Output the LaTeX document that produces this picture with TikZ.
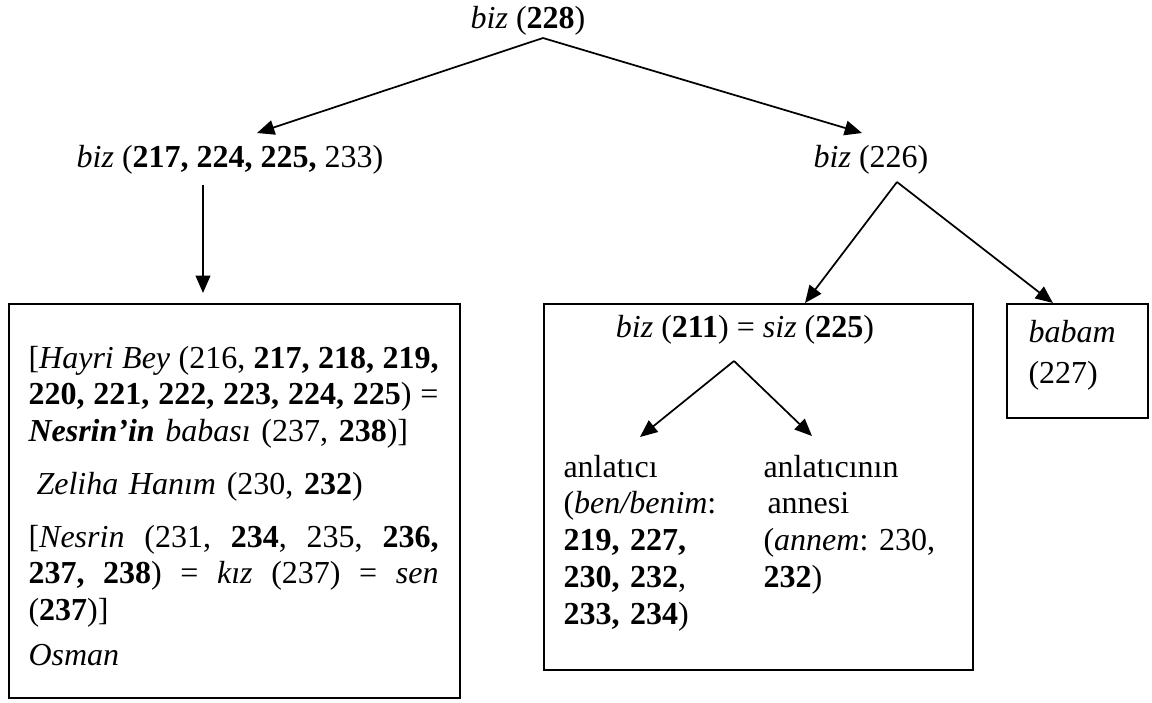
\documentclass[tikz,border=0pt]{standalone}
\usepackage{fontspec}
\setmainfont{Liberation Serif}
\usetikzlibrary{arrows.meta, positioning}

% one justified line of a paragraph
\newlength{\parw}
\setlength{\parw}{153.75pt}
\newcommand{\jline}[1]{\leavevmode\hbox to\parw{\spaceskip=2pt plus 1fil\relax #1}}

\begin{document}
\begin{tikzpicture}[
  x=0.375pt, y=-0.375pt,
  font=\fontsize{12pt}{13.8pt}\selectfont\frenchspacing,
  lbl/.style={inner sep=0pt, anchor=base},
  para/.style={inner sep=0pt, anchor=base west, align=left, text width=#1},
  para/.default=\parw,
  frame/.style={draw, line width=0.75pt, inner sep=0pt, anchor=north west},
  ar/.style={-{Triangle[length=6.5pt, width=5.5pt]}, line width=0.65pt},
]
\useasboundingbox (0,0) rectangle (1152,702);

%% upper levels
\node[lbl] (top)  at (528,28)  {\textit{biz} (\textbf{228})};
\node[lbl] (bizl) at (230,167) {\textit{biz} (\textbf{217, 224, 225,} 233)};
\node[lbl] (bizr) at (871,167) {\textit{biz} (226)};

%% frames
\node[frame, minimum width=169.1pt, minimum height=147.75pt] (lbox) at (8,303) {};
\node[frame, minimum width=160.9pt, minimum height=137.25pt] (rbox) at (543,303) {};
\node[frame, minimum width=52.9pt, minimum height=42.75pt] (bbox) at (1006,303) {};

%% left frame
\node[para] (hayri) at (28,368)
  {\jline{[\textit{Hayri Bey} (216, \textbf{217, 218, 219,}}\\
   \jline{\textbf{220, 221, 222, 223, 224, 225}) =}\\
   \textbf{\textit{Nesrin’in}} \textit{babası} (237, \textbf{238})]};
\node[para] (zeliha) at (28,494) {\hspace*{.25em}\textit{Zeliha Hanım} (230, \textbf{232})};
\node[para] (nesrin) at (28,547)
  {\jline{[\textit{Nesrin} (231, \textbf{234}, 235, \textbf{236,}}\\
   \jline{\textbf{237, 238}) = \textit{kız} (237) = \textit{sen}}\\
   (\textbf{237})]};
\node[para] (osman) at (28,665) {\textit{Osman}};

%% right frame
\node[lbl] (bizsiz) at (745,337) {\textit{biz} (\textbf{211}) = \textit{siz} (\textbf{225})};
\node[para=60pt] (anlatici) at (563,477)
  {anlatıcı\\(\textit{ben/benim}:\\\textbf{219, 227,}\\\textbf{230, 232},\\\textbf{233, 234})};
\node[para=72pt] (annesi) at (763,477)
  {anlatıcının\\\hspace*{1.5pt}annesi\\(\textit{annem}: 230,\\\textbf{232})};

%% small frame
\node[para=45pt] (babam) at (1028,342) {\textit{babam}\\[1.9pt](227)};

%% forks
\coordinate (topfork) at (543,38);
\coordinate (lstem)   at (203,185);
\coordinate (rfork)   at (897,182);
\coordinate (ifork)   at (734,361);
\coordinate (bizlin)  at (257,133);
\coordinate (bizrin)  at (862,133);
\coordinate (anlin)   at (640,437);
\coordinate (annin)   at (812,436);

\draw[ar] (topfork) -- (bizlin);
\draw[ar] (topfork) -- (bizrin);
\draw[ar, shorten >=3.75pt] (lstem) -- (lstem |- lbox.north);
\draw[ar] (rfork) -- ([xshift=98.25pt]rbox.north west);
\draw[ar] (rfork) -- ([xshift=17.6pt]bbox.north west);
\draw[ar] (ifork) -- (anlin);
\draw[ar] (ifork) -- (annin);
\end{tikzpicture}
\end{document}
